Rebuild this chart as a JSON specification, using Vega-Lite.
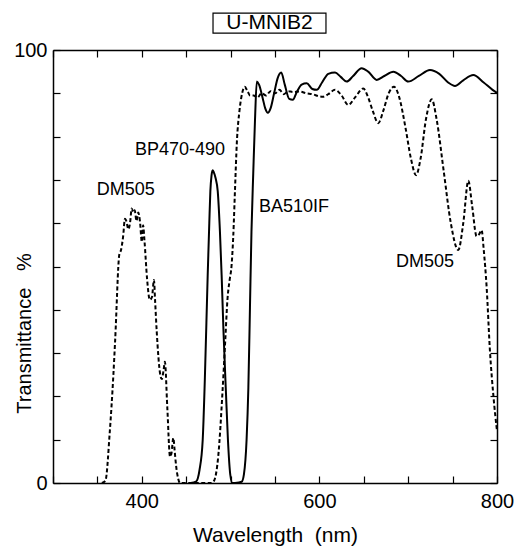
{
  "$schema": "https://vega.github.io/schema/vega-lite/v6.json",
  "width": 444,
  "height": 433,
  "autosize": {"type": "none"},
  "padding": {"left": 53, "top": 50, "right": 29, "bottom": 69},
  "background": "white",
  "config": {
    "view": {"stroke": null},
    "font": "Liberation Sans",
    "axis": {"grid": false, "domainColor": "black", "domainWidth": 1.5, "tickColor": "black", "tickWidth": 1.2, "labelColor": "black", "titleColor": "black", "labelFont": "Liberation Sans", "titleFont": "Liberation Sans", "titleFontWeight": "normal"}
  },
  "datasets": {
    "dm505": [
      {"wl": 355, "t": 0}, {"wl": 359, "t": 0.5}, {"wl": 364, "t": 12}, {"wl": 368, "t": 25}, {"wl": 370, "t": 33},
      {"wl": 374.7, "t": 52.8}, {"wl": 376.6, "t": 53.8}, {"wl": 379, "t": 57}, {"wl": 381, "t": 61}, {"wl": 382.2, "t": 60.7},
      {"wl": 385, "t": 58.6}, {"wl": 387, "t": 60.5}, {"wl": 388.6, "t": 63.4}, {"wl": 390.5, "t": 62.5}, {"wl": 392, "t": 63},
      {"wl": 394, "t": 60.5}, {"wl": 396, "t": 62.5}, {"wl": 398, "t": 60.3}, {"wl": 400, "t": 55.7}, {"wl": 401.5, "t": 59.5},
      {"wl": 403, "t": 56}, {"wl": 406, "t": 47}, {"wl": 409, "t": 42.3}, {"wl": 411.5, "t": 43}, {"wl": 413.7, "t": 46.9},
      {"wl": 415, "t": 42}, {"wl": 416.8, "t": 35}, {"wl": 420.5, "t": 25.4}, {"wl": 422.5, "t": 24}, {"wl": 424.5, "t": 26},
      {"wl": 426, "t": 28}, {"wl": 428.7, "t": 17.5}, {"wl": 431.8, "t": 6.1}, {"wl": 433.5, "t": 7}, {"wl": 435.5, "t": 10.4},
      {"wl": 437, "t": 7.5}, {"wl": 438.5, "t": 4.2}, {"wl": 441, "t": 1}, {"wl": 443, "t": 0}, {"wl": 460, "t": 0},
      {"wl": 478, "t": 0}, {"wl": 481.3, "t": 0.5}, {"wl": 486, "t": 6}, {"wl": 491, "t": 21.5}, {"wl": 494, "t": 33},
      {"wl": 496.5, "t": 42.5}, {"wl": 499, "t": 47}, {"wl": 501, "t": 50}, {"wl": 503, "t": 57}, {"wl": 505, "t": 68},
      {"wl": 507, "t": 78.5}, {"wl": 510, "t": 86}, {"wl": 513, "t": 90}, {"wl": 516, "t": 91.5}, {"wl": 519, "t": 90.5},
      {"wl": 522, "t": 89.5}, {"wl": 526, "t": 89.5}, {"wl": 530, "t": 89}, {"wl": 535, "t": 90}, {"wl": 540, "t": 89.5},
      {"wl": 545, "t": 90.5}, {"wl": 550, "t": 90}, {"wl": 555, "t": 90.8}, {"wl": 560, "t": 89.8}, {"wl": 565, "t": 90.5},
      {"wl": 570, "t": 90.3}, {"wl": 578, "t": 90.4}, {"wl": 585, "t": 90}, {"wl": 592, "t": 89.8}, {"wl": 600, "t": 89.3},
      {"wl": 604, "t": 89.2}, {"wl": 610, "t": 89.8}, {"wl": 617.6, "t": 90.8}, {"wl": 625, "t": 89.5}, {"wl": 632.5, "t": 87.3},
      {"wl": 640, "t": 89}, {"wl": 649.4, "t": 91.1}, {"wl": 655, "t": 89}, {"wl": 660, "t": 86}, {"wl": 666.3, "t": 83.1},
      {"wl": 672, "t": 86}, {"wl": 678, "t": 90}, {"wl": 684, "t": 91.5}, {"wl": 690, "t": 89}, {"wl": 697, "t": 82},
      {"wl": 703, "t": 75}, {"wl": 708.8, "t": 71.1}, {"wl": 714, "t": 75}, {"wl": 720, "t": 84}, {"wl": 726.5, "t": 88.6},
      {"wl": 732, "t": 84}, {"wl": 740, "t": 72}, {"wl": 748, "t": 60}, {"wl": 756.4, "t": 53.8}, {"wl": 762, "t": 60},
      {"wl": 767.7, "t": 69.8}, {"wl": 772, "t": 64}, {"wl": 777, "t": 57}, {"wl": 780, "t": 57.5}, {"wl": 782.7, "t": 58.4},
      {"wl": 785, "t": 54}, {"wl": 788.4, "t": 45}, {"wl": 792, "t": 30.7}, {"wl": 796, "t": 20}, {"wl": 800, "t": 12}
    ],
    "solid": [
      {"series": "BP470-490", "wl": 455, "t": 0}, {"series": "BP470-490", "wl": 461, "t": 0.3}, {"series": "BP470-490", "wl": 465, "t": 3},
      {"series": "BP470-490", "wl": 468.6, "t": 10}, {"series": "BP470-490", "wl": 471, "t": 24}, {"series": "BP470-490", "wl": 474.2, "t": 48},
      {"series": "BP470-490", "wl": 476, "t": 60}, {"series": "BP470-490", "wl": 477.2, "t": 67.4}, {"series": "BP470-490", "wl": 478.5, "t": 71},
      {"series": "BP470-490", "wl": 479.8, "t": 72.2}, {"series": "BP470-490", "wl": 481, "t": 71.8}, {"series": "BP470-490", "wl": 483, "t": 70.5},
      {"series": "BP470-490", "wl": 485.5, "t": 67.4}, {"series": "BP470-490", "wl": 488, "t": 58}, {"series": "BP470-490", "wl": 489.9, "t": 48},
      {"series": "BP470-490", "wl": 492, "t": 35}, {"series": "BP470-490", "wl": 494.7, "t": 21.2}, {"series": "BP470-490", "wl": 497, "t": 10},
      {"series": "BP470-490", "wl": 499.6, "t": 2}, {"series": "BP470-490", "wl": 502, "t": 0}, {"series": "BP470-490", "wl": 505, "t": 0},
      {"series": "BA510IF", "wl": 505, "t": 0}, {"series": "BA510IF", "wl": 512.5, "t": 0.3}, {"series": "BA510IF", "wl": 515, "t": 2},
      {"series": "BA510IF", "wl": 518, "t": 10}, {"series": "BA510IF", "wl": 520, "t": 22}, {"series": "BA510IF", "wl": 521.8, "t": 40.5},
      {"series": "BA510IF", "wl": 523.5, "t": 58}, {"series": "BA510IF", "wl": 525.5, "t": 71.5}, {"series": "BA510IF", "wl": 527.5, "t": 84},
      {"series": "BA510IF", "wl": 529.5, "t": 92.7}, {"series": "BA510IF", "wl": 532, "t": 92}, {"series": "BA510IF", "wl": 536, "t": 89},
      {"series": "BA510IF", "wl": 539, "t": 86.5}, {"series": "BA510IF", "wl": 542, "t": 85.5}, {"series": "BA510IF", "wl": 545, "t": 86.5},
      {"series": "BA510IF", "wl": 549, "t": 90}, {"series": "BA510IF", "wl": 553, "t": 93.5}, {"series": "BA510IF", "wl": 557, "t": 94.8},
      {"series": "BA510IF", "wl": 561, "t": 92}, {"series": "BA510IF", "wl": 566, "t": 88.7}, {"series": "BA510IF", "wl": 570, "t": 88.5},
      {"series": "BA510IF", "wl": 575, "t": 90.5}, {"series": "BA510IF", "wl": 580, "t": 92}, {"series": "BA510IF", "wl": 585.7, "t": 92.3},
      {"series": "BA510IF", "wl": 592, "t": 91}, {"series": "BA510IF", "wl": 597, "t": 90.8}, {"series": "BA510IF", "wl": 603, "t": 92.5},
      {"series": "BA510IF", "wl": 610, "t": 94.5}, {"series": "BA510IF", "wl": 617.6, "t": 94.8}, {"series": "BA510IF", "wl": 624, "t": 93.8},
      {"series": "BA510IF", "wl": 630.7, "t": 92.7}, {"series": "BA510IF", "wl": 638, "t": 94}, {"series": "BA510IF", "wl": 647.6, "t": 95.8},
      {"series": "BA510IF", "wl": 655, "t": 95}, {"series": "BA510IF", "wl": 664.5, "t": 93.1}, {"series": "BA510IF", "wl": 673, "t": 94},
      {"series": "BA510IF", "wl": 683.3, "t": 95}, {"series": "BA510IF", "wl": 692, "t": 94}, {"series": "BA510IF", "wl": 700, "t": 92.7},
      {"series": "BA510IF", "wl": 712, "t": 94}, {"series": "BA510IF", "wl": 724.5, "t": 95.4}, {"series": "BA510IF", "wl": 735, "t": 94.5},
      {"series": "BA510IF", "wl": 745, "t": 92.5}, {"series": "BA510IF", "wl": 752.7, "t": 91.7}, {"series": "BA510IF", "wl": 762, "t": 93},
      {"series": "BA510IF", "wl": 773.3, "t": 94.2}, {"series": "BA510IF", "wl": 785, "t": 92.5}, {"series": "BA510IF", "wl": 795, "t": 90.8},
      {"series": "BA510IF", "wl": 800, "t": 90.1}
    ],
    "labels": [
      {"label": "BP470-490", "wl": 443, "t": 76.9},
      {"label": "DM505", "wl": 382, "t": 67.7},
      {"label": "BA510IF", "wl": 571.5, "t": 63.8},
      {"label": "DM505", "wl": 719, "t": 51.1}
    ],
    "title": [
      {"label": "U-MNIB2", "wl": 543.8, "t": 106.2, "wl0": 480.2, "wl1": 607.4, "t0": 103.9, "t1": 108.5}
    ]
  },
  "layer": [
    {
      "data": {"name": "solid"},
      "mark": {"type": "line", "interpolate": "monotone", "color": "black", "strokeWidth": 2},
      "encoding": {
        "x": {"field": "wl", "type": "quantitative", "scale": {"domain": [300, 800], "nice": false, "zero": false},
          "axis": {"orient": "bottom", "values": [300, 350, 400, 450, 500, 550, 600, 650, 700, 750, 800],
            "labelExpr": "datum.value == 400 || datum.value == 600 || datum.value == 800 ? datum.label : ''",
            "tickSize": -7, "labelPadding": 15, "labelFontSize": 20, "labelFlush": false, "labelOverlap": false, "labelBound": false,
            "title": "Wavelength\u00a0 (nm)", "titleFontSize": 21, "titlePadding": 13}},
        "y": {"field": "t", "type": "quantitative", "scale": {"domain": [0, 100], "nice": false},
          "axis": {"orient": "left", "values": [0, 10, 20, 30, 40, 50, 60, 70, 80, 90, 100],
            "labelExpr": "datum.value == 0 || datum.value == 100 ? datum.label : ''",
            "tickSize": -7, "labelPadding": 13, "labelFontSize": 20, "labelFlush": false, "labelOverlap": false, "labelBound": false,
            "title": "Transmittance\u00a0\u00a0 %", "titleFontSize": 20, "titleX": -29, "titleY": 283, "titleBaseline": "middle", "titleAngle": -90}},
        "detail": {"field": "series", "type": "nominal"}
      }
    },
    {
      "data": {"name": "dm505"},
      "mark": {"type": "line", "interpolate": "monotone", "color": "black", "strokeWidth": 2, "strokeDash": [4, 2.5]},
      "encoding": {
        "x": {"field": "wl", "type": "quantitative", "axis": null},
        "y": {"field": "t", "type": "quantitative", "axis": null}
      }
    },
    {
      "data": {"name": "labels"},
      "mark": {"type": "text", "font": "Liberation Sans", "fontSize": 18, "color": "black", "align": "center", "baseline": "middle"},
      "encoding": {
        "x": {"field": "wl", "type": "quantitative",
          "axis": {"orient": "top", "values": [300, 350, 400, 450, 500, 550, 600, 650, 700, 750, 800], "labels": false, "tickSize": -7, "title": null}},
        "y": {"field": "t", "type": "quantitative",
          "axis": {"orient": "right", "values": [0, 10, 20, 30, 40, 50, 60, 70, 80, 90, 100], "labels": false, "tickSize": -7, "title": null}},
        "text": {"field": "label", "type": "nominal"}
      }
    },
    {
      "data": {"name": "title"},
      "mark": {"type": "rect", "fill": "white", "stroke": "black", "strokeWidth": 1.2},
      "encoding": {
        "x": {"field": "wl0", "type": "quantitative", "axis": null},
        "x2": {"field": "wl1"},
        "y": {"field": "t0", "type": "quantitative", "axis": null},
        "y2": {"field": "t1"}
      }
    },
    {
      "data": {"name": "title"},
      "mark": {"type": "text", "font": "Liberation Sans", "fontSize": 21, "color": "black", "align": "center", "baseline": "middle"},
      "encoding": {
        "x": {"field": "wl", "type": "quantitative", "axis": null},
        "y": {"field": "t", "type": "quantitative", "axis": null},
        "text": {"field": "label", "type": "nominal"}
      }
    }
  ],
  "resolve": {"axis": {"x": "independent", "y": "independent"}}
}
